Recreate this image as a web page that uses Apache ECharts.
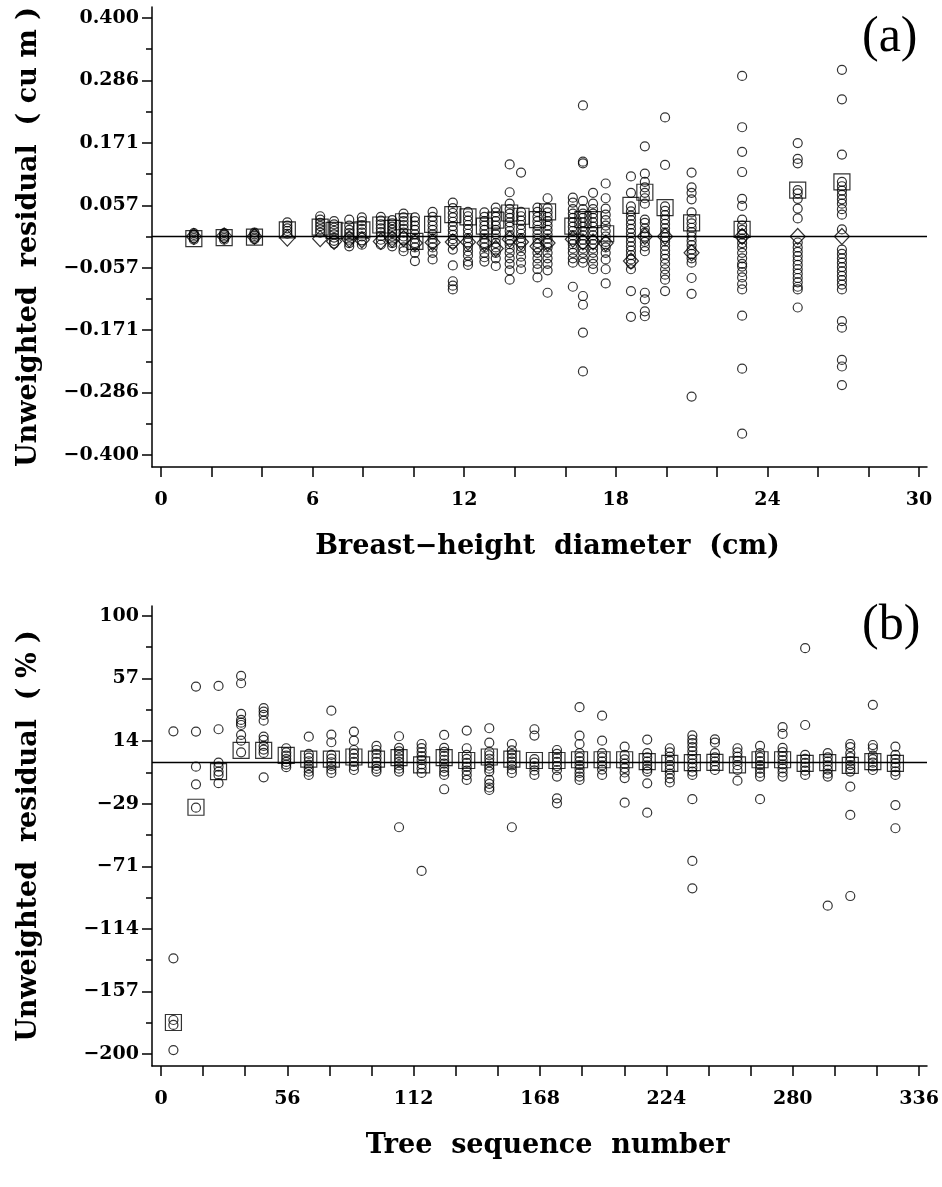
<!DOCTYPE html>
<html><head><meta charset="utf-8">
<script src="https://cdn.jsdelivr.net/npm/echarts@6/dist/echarts.min.js"></script>
<style>html,body{margin:0;padding:0;background:#fff}#c{width:942px;height:1187px}</style>
</head><body><div id="c"></div>
<script>
// ---------- Panel (a): residual vs breast-height diameter ----------
const dbhA = [1.3, 2.5, 3.7, 5.0, 6.3, 6.85, 7.45, 7.95, 8.7, 9.15, 9.6, 10.05, 10.75, 11.55, 12.15, 12.8,
  13.25, 13.8, 14.25, 14.9, 15.3, 16.3, 16.7, 17.1, 17.6, 18.6, 19.15, 19.95, 21.0, 23.0, 25.2, 26.95];
const residA = [
  [0.006, 0.003, 0.0, -0.003, -0.006],
  [0.006, 0.003, 0.0, -0.003, -0.006],
  [0.007, 0.004, 0.001, -0.002, -0.005],
  [0.026, 0.02, 0.015, 0.01, 0.005],
  [0.037, 0.031, 0.025, 0.019, 0.013, 0.007],
  [0.028, 0.022, 0.016, 0.01, 0.004, -0.002, -0.008, -0.013],
  [0.031, 0.02, 0.012, 0.006, 0.0, -0.006, -0.012, -0.018],
  [0.035, 0.028, 0.021, 0.014, 0.007, 0.0, -0.007, -0.015],
  [0.036, 0.029, 0.022, 0.015, 0.008, 0.001, -0.006, -0.015],
  [0.03, 0.024, 0.018, 0.012, 0.006, 0.0, -0.006, -0.012, -0.018],
  [0.042, 0.035, 0.028, 0.021, 0.014, 0.007, 0.0, -0.007, -0.02, -0.027],
  [0.035, 0.028, 0.02, 0.012, 0.004, -0.004, -0.012, -0.02, -0.03, -0.045],
  [0.045, 0.036, 0.028, 0.02, 0.012, 0.004, -0.004, -0.012, -0.02, -0.03, -0.042],
  [0.062, 0.052, 0.043, 0.035, 0.027, 0.019, 0.011, 0.003, -0.005, -0.013, -0.024, -0.053, -0.082, -0.09, -0.097],
  [0.045, 0.037, 0.029, 0.021, 0.013, 0.005, -0.003, -0.011, -0.019, -0.027, -0.035, -0.046, -0.052],
  [0.044, 0.036, 0.028, 0.02, 0.012, 0.004, -0.004, -0.012, -0.02, -0.03, -0.038, -0.046],
  [0.053, 0.044, 0.036, 0.028, 0.02, 0.012, 0.004, -0.004, -0.012, -0.02, -0.03, -0.04, -0.054],
  [0.132, 0.081, 0.06, 0.05, 0.042, 0.034, 0.026, 0.018, 0.01, 0.002, -0.006, -0.014, -0.022, -0.03, -0.04, -0.05, -0.062, -0.079],
  [0.117, 0.045, 0.037, 0.029, 0.021, 0.013, 0.005, -0.003, -0.011, -0.019, -0.027, -0.037, -0.048, -0.06],
  [0.053, 0.045, 0.036, 0.028, 0.02, 0.012, 0.004, -0.004, -0.012, -0.02, -0.03, -0.04, -0.05, -0.06, -0.075],
  [0.07, 0.052, 0.044, 0.036, 0.028, 0.02, 0.012, 0.004, -0.004, -0.012, -0.02, -0.03, -0.04, -0.05, -0.062, -0.103],
  [0.071, 0.062, 0.05, 0.042, 0.034, 0.026, 0.018, 0.01, 0.002, -0.006, -0.014, -0.022, -0.03, -0.04, -0.048, -0.092],
  [0.24, 0.137, 0.134, 0.065, 0.05, 0.042, 0.034, 0.026, 0.018, 0.01, 0.002, -0.006, -0.014, -0.022, -0.03, -0.04, -0.048, -0.109, -0.125, -0.176, -0.247],
  [0.08, 0.06, 0.05, 0.042, 0.034, 0.026, 0.018, 0.01, 0.002, -0.006, -0.014, -0.022, -0.03, -0.04, -0.05, -0.06],
  [0.097, 0.07, 0.051, 0.04, 0.03, 0.02, 0.01, 0.0, -0.01, -0.02, -0.03, -0.042, -0.06, -0.086],
  [0.11, 0.08, 0.055, 0.046, 0.038, 0.03, 0.022, 0.014, 0.006, -0.002, -0.01, -0.018, -0.026, -0.034, -0.042, -0.05, -0.06, -0.1, -0.147],
  [0.165, 0.115, 0.1, 0.09, 0.08, 0.07, 0.06, 0.031, 0.025, 0.015, 0.007, 0.0, -0.01, -0.018, -0.027, -0.103, -0.115, -0.137, -0.146],
  [0.218, 0.131, 0.055, 0.047, 0.039, 0.031, 0.023, 0.015, 0.007, -0.001, -0.009, -0.017, -0.025, -0.033, -0.041, -0.05, -0.06, -0.07, -0.079, -0.1],
  [0.117, 0.09, 0.08, 0.068, 0.044, 0.032, 0.024, 0.016, 0.008, 0.0, -0.008, -0.016, -0.024, -0.032, -0.04, -0.048, -0.076, -0.105, -0.293],
  [0.294, 0.2, 0.155, 0.118, 0.069, 0.056, 0.031, 0.02, 0.012, 0.004, -0.004, -0.012, -0.02, -0.03, -0.04, -0.05, -0.055, -0.065, -0.075, -0.087, -0.097, -0.145, -0.242, -0.361],
  [0.171, 0.142, 0.134, 0.085, 0.079, 0.069, 0.051, 0.033, -0.011, -0.02, -0.028, -0.036, -0.044, -0.052, -0.06, -0.068, -0.076, -0.084, -0.092, -0.097, -0.13],
  [0.305, 0.251, 0.15, 0.1, 0.092, 0.084, 0.076, 0.068, 0.06, 0.05, 0.04, 0.013, -0.024, -0.032, -0.04, -0.048, -0.056, -0.064, -0.072, -0.08, -0.088, -0.097, -0.155, -0.167, -0.226, -0.238, -0.272]
];
const meanA = [-0.004, -0.002, -0.001, 0.012, 0.017, 0.011, 0.01, 0.012, 0.021, 0.015, 0.027, -0.009, 0.022, 0.04, 0.036, 0.019,
  0.03, 0.043, 0.037, 0.031, 0.045, 0.019, 0.031, 0.031, 0.005, 0.057, 0.081, 0.053, 0.025, 0.013, 0.085, 0.1];
const medianA = [0.0, 0.001, 0.0, -0.003, -0.004, -0.009, -0.005, -0.006, -0.009, -0.005, -0.004, -0.012, -0.011, -0.01, -0.01, -0.012,
  -0.022, -0.005, -0.01, -0.018, -0.012, -0.005, -0.01, -0.01, -0.012, -0.045, 0.0, 0.0, -0.03, 0.0, 0.0, 0.0];
const xLabelsA = [0, 6, 12, 18, 24, 30];
const xTicksA = [0, 2, 4, 6, 8, 10, 12, 14, 16, 18, 20, 22, 24, 26, 28, 30];
const yLabelsA = [-0.4, -0.285714, -0.171429, -0.057143, 0.057143, 0.171429, 0.285714, 0.4];

// ---------- Panel (b): residual (%) vs tree sequence number ----------
const seqB = [5.5, 15.5, 25.5, 35.5, 45.5, 55.5, 65.5, 75.5, 85.5, 95.5, 105.5, 115.5, 125.5, 135.5, 145.5, 155.5, 165.5,
  175.5, 185.5, 195.5, 205.5, 215.5, 225.5, 235.5, 245.5, 255.5, 265.5, 275.5, 285.5, 295.5, 305.5, 315.5, 325.5];
const residB = [
  [21, -134.5, -176.7, -180.1, -197.3],
  [51.6, 20.8, -3.2, -15.3, -31.3],
  [52.1, 22.4, -0.5, -3.2, -6.6, -8.9, -14.5],
  [58.9, 53.9, 32.9, 28.8, 26.9, 25.3, 18.5, 14.6, 6.6],
  [36.8, 34.5, 32.2, 28.3, 17.4, 15.1, 11, 8.5, 6.2, -10.5],
  [9.4, 6.5, 4.3, 2, 0, -1.8, -3.6],
  [17.3, 5.5, 3, 0.5, -2, -4.5, -6.7, -8.9],
  [35.1, 18.7, 13.5, 4.8, 2.3, -0.2, -2.7, -5.1, -7.5],
  [20.8, 14.6, 8.2, 5.5, 2.8, 0, -2.8, -5.5],
  [11, 8.2, 5.5, 2.7, 0, -2.7, -4.8, -6.6],
  [17.6, 9.6, 7.2, 4.8, 2.4, 0, -2.4, -4.6, -6.6, -44.7],
  [12.3, 9.5, 6.8, 4, 1.2, -1.6, -4.4, -7.5, -74.6],
  [18.5, 9.6, 6.9, 4.2, 1.5, -1.2, -4, -6.6, -8.9, -18.7],
  [21.5, 9.4, 4.8, 2.1, -0.6, -3.3, -6, -9, -12.3],
  [23.1, 13.2, 7, 4.6, 2.2, -0.2, -2.6, -4.6, -6.6, -12.3, -15, -17.5, -19.2],
  [12.3, 8, 5.4, 2.8, 0.2, -2.4, -5, -7.5, -44.7],
  [22.4, 18.1, 2, -0.5, -3, -5.8, -8.9],
  [8.2, 5.5, 2.8, 0, -2.8, -5.5, -10, -24.9, -28.3],
  [37.5, 18, 12.3, 6, 3.3, 0.6, -2.1, -4.8, -7.5, -10, -12.3],
  [31.7, 14.6, 6, 3.2, 0.4, -2.4, -5.2, -8.9],
  [10.5, 4.8, 1.8, -1.2, -4.2, -7.2, -11, -27.9],
  [15.3, 6, 3.2, 0.4, -2.4, -4.8, -6.6, -14.6, -34.7],
  [9.4, 6.5, 3.6, 0.7, -2.2, -5.1, -8, -11.2, -14],
  [18.2, 15.3, 13, 10.2, 7.4, 4.6, 1.8, -1, -3.8, -6.6, -8.9, -25.5, -67.8, -86.5],
  [15.5, 13.2, 6, 3.2, 0.4, -2.4, -5.5],
  [9.4, 6.5, 3.6, 0.7, -2.2, -5.5, -12.8],
  [11, 6, 3.3, 0.6, -2.1, -4.8, -7.5, -10, -25.5],
  [23.8, 19.2, 9.6, 6.8, 4, 1.2, -1.6, -4.4, -7.2, -10],
  [77.9, 25.3, 4.8, 2.1, -0.6, -3.3, -6, -8.9],
  [6, 3.2, 0.4, -2.4, -5.2, -8, -10, -98.4],
  [12.3, 10.1, 6, 3.3, 0.6, -2.1, -4.4, -6.6, -16.9, -36.3, -91.8],
  [39.1, 11.6, 9.4, 4.3, 1.9, -0.5, -3, -5.5],
  [10.5, 4.8, 2, -0.8, -3.6, -6.4, -8.9, -29.5, -45.4]
];
const medianB = [-178.4, -31, -6.6, 8, 8, 4.5, 2, 2, 3.4, 2, 3, -2, 3, 1, 3.4, 2, 1, 1, 1.5, 1.5, 1.5, 0.2, -1, -0.5, -0.3, -2, 1.5, 1.5, -1, -0.4, -2.3, 0.2, -1];
const xLabelsB = [0, 56, 112, 168, 224, 280, 336];
const yLabelsB = [-200, -157.142857, -114.285714, -71.428571, -28.571429, 14.285714, 57.142857, 100];

// ---------- helpers ----------
function pts(xs, lists) { const out = []; xs.forEach((x, i) => lists[i].forEach(v => out.push([x, v]))); return out; }
function pairs(xs, vs) { return xs.map((x, i) => [x, vs[i]]).filter(p => p[1] !== null); }
function thirds(labels) { const t = []; for (let i = 0; i < labels.length - 1; i++) { const a = labels[i], b = labels[i + 1]; t.push(a, a + (b - a) / 3, a + 2 * (b - a) / 3); } t.push(labels[labels.length - 1]); return t; }
function mids(labels) { const t = []; for (let i = 0; i < labels.length - 1; i++) { t.push((labels[i] + labels[i + 1]) / 2); } return t; }
const minus = '\u2212';
const SERIF = '"DejaVu Serif", "Liberation Serif", serif';
const black = '#000';

function xAxis(gi, min, max, ticks, labels, name, fmt) {
  return { type: 'value', gridIndex: gi, min, max, position: 'bottom',
    axisLine: { show: true, onZero: false, lineStyle: { color: black, width: 1.5 } },
    axisTick: { show: true, inside: false, length: 10, customValues: ticks, lineStyle: { color: black, width: 1.5 } },
    axisLabel: { show: true, customValues: labels, margin: 24, color: black, fontFamily: SERIF, fontWeight: 'bold', fontSize: 19, formatter: fmt },
    splitLine: { show: false },
    name, nameLocation: 'middle', nameGap: 66,
    nameTextStyle: { color: black, fontFamily: SERIF, fontWeight: 'bold', fontSize: 27, padding: [0, 0, 0, 16] } };
}
function yAxis(gi, min, max, labels, name, fmt) {
  return { type: 'value', gridIndex: gi, min, max, position: 'left',
    axisLine: { show: true, onZero: false, lineStyle: { color: black, width: 1.5 } },
    axisTick: { show: true, inside: false, length: 10, customValues: labels, lineStyle: { color: black, width: 1.5 } },
    axisLabel: { show: true, customValues: labels, margin: 13, color: black, fontFamily: SERIF, fontWeight: 'bold', fontSize: 19, formatter: fmt },
    splitLine: { show: false },
    name, nameLocation: 'middle', nameGap: 110,
    nameTextStyle: { color: black, fontFamily: SERIF, fontWeight: 'bold', fontSize: 27 } };
}
function yMinor(gi, min, max, ticks) {
  return { type: 'value', gridIndex: gi, min, max, position: 'left', offset: 0,
    axisLine: { show: false, onZero: false },
    axisTick: { show: true, inside: false, length: 6, customValues: ticks, lineStyle: { color: black, width: 1.5 } },
    axisLabel: { show: false }, splitLine: { show: false } };
}
const hollow = { color: 'rgba(0,0,0,0)', borderColor: black, borderWidth: 1.2 };
const zeroLine = { silent: true, symbol: ['none', 'none'], label: { show: false },
  lineStyle: { color: black, width: 1.3, type: 'solid' }, data: [{ yAxis: 0 }] };

const fmtA = v => (v < 0 ? minus : '') + Math.abs(v).toFixed(3);
const fmtB = v => (v < 0 ? minus : '') + Math.abs(Math.round(v));
const fmtX = v => String(Math.round(v));

const option = {
  animation: false,
  backgroundColor: '#fff',
  title: [
    { text: '(a)', left: 857, top: 8, textStyle: { fontFamily: '"Liberation Serif", serif', fontWeight: 'normal', fontSize: 50, color: black } },
    { text: '(b)', left: 857, top: 596, textStyle: { fontFamily: '"Liberation Serif", serif', fontWeight: 'normal', fontSize: 50, color: black } }
  ],
  grid: [
    { left: 152, top: 7, right: 15, height: 460, containLabel: false, outerBoundsMode: 'none' },
    { left: 152, top: 606, right: 15, height: 460, containLabel: false, outerBoundsMode: 'none' }
  ],
  xAxis: [
    xAxis(0, -0.356, 30.317, xTicksA, xLabelsA, 'Breast\u2212height  diameter  (cm)', fmtX),
    xAxis(1, -3.99, 339.5, thirds(xLabelsB), xLabelsB, 'Tree  sequence  number', fmtX)
  ],
  yAxis: [
    yAxis(0, -0.422, 0.4201, yLabelsA, 'Unweighted  residual  ( cu m )', fmtA),
    yAxis(1, -208.2, 106.8, yLabelsB, 'Unweighted  residual  ( % )', fmtB),
    yMinor(0, -0.422, 0.4201, mids(yLabelsA)),
    yMinor(1, -208.2, 106.8, mids(yLabelsB))
  ],
  series: [
    { type: 'scatter', xAxisIndex: 0, yAxisIndex: 0, symbol: 'rect', symbolSize: 16, itemStyle: hollow, data: pairs(dbhA, meanA), markLine: zeroLine, z: 2 },
    { type: 'scatter', xAxisIndex: 0, yAxisIndex: 0, symbol: 'diamond', symbolSize: [15, 16], itemStyle: hollow, data: pairs(dbhA, medianA), z: 2 },
    { type: 'scatter', xAxisIndex: 0, yAxisIndex: 0, symbol: 'circle', symbolSize: 9, itemStyle: hollow, data: pts(dbhA, residA), z: 3 },
    { type: 'scatter', xAxisIndex: 1, yAxisIndex: 1, symbol: 'rect', symbolSize: 16, itemStyle: hollow, data: pairs(seqB, medianB), markLine: zeroLine, z: 2 },
    { type: 'scatter', xAxisIndex: 1, yAxisIndex: 1, symbol: 'circle', symbolSize: 9, itemStyle: hollow, data: pts(seqB, residB), z: 3 }
  ]
};
const chart = echarts.init(document.getElementById('c'), null, { renderer: 'canvas' });
chart.setOption(option);
</script></body></html>
